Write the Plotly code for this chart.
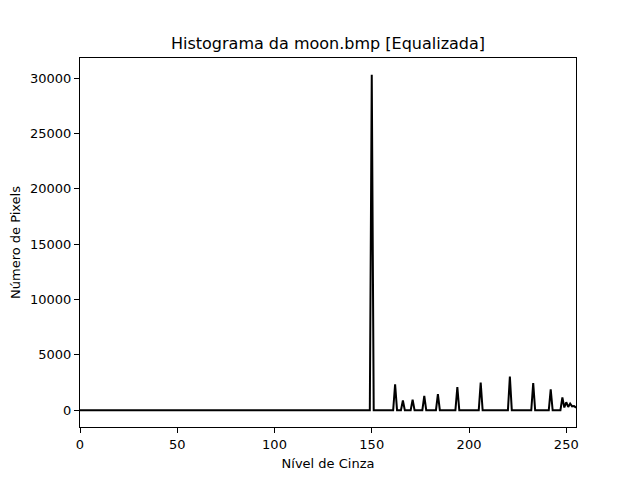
import numpy as np
import plotly.graph_objects as go

# gray levels that have pixels after equalization, and their counts
levels = [150, 162, 166, 171, 177, 184, 194, 206, 221, 233, 242, 248, 249, 250, 251, 252, 253, 254, 255]
counts = [30300, 2350, 880, 960, 1300, 1450, 2080, 2500, 3030, 2450, 1880, 1150, 250, 720, 300, 600, 350, 380, 230]

x_ticks = [0, 50, 100, 150, 200, 250]
y_ticks = [0, 5000, 10000, 15000, 20000, 25000, 30000]

# full 256-bin histogram (empty bins are zero)
hist = np.zeros(256)
hist[levels] = counts
gray = np.arange(256)

fig = go.Figure()
fig.add_trace(go.Scatter(x=gray, y=hist, mode="lines",
                         line=dict(color="black", width=2)))

axis_style = dict(showline=True, linecolor="black", linewidth=1, mirror=True,
                  ticks="outside", ticklen=5, tickwidth=1, tickcolor="black",
                  showgrid=False, zeroline=False, automargin=False,
                  tickfont=dict(size=13, color="black"))

ymax = max(counts)
fig.update_xaxes(range=[0, 255], tickvals=x_ticks,
                 title=dict(text="Nível de Cinza", font=dict(size=13, color="black"), standoff=8),
                 **axis_style)
fig.update_yaxes(range=[-0.05 * ymax, 1.05 * ymax], tickvals=y_ticks, tickformat="d",
                 title=dict(text="Número de Pixels", font=dict(size=13, color="black"), standoff=8),
                 **axis_style)

# page adds an 8px offset, so margins are shifted to compensate
fig.update_layout(
    width=640, height=480,
    margin=dict(l=72, r=72, t=50, b=61),
    paper_bgcolor="white", plot_bgcolor="white",
    font=dict(family="DejaVu Sans", color="black"),
    title=dict(text="Histograma da moon.bmp [Equalizada]", x=0.5, xref="paper",
               y=1 - 35 / 480, yanchor="middle", font=dict(size=16, color="black")),
    showlegend=False,
)

fig.write_html("out.html")
